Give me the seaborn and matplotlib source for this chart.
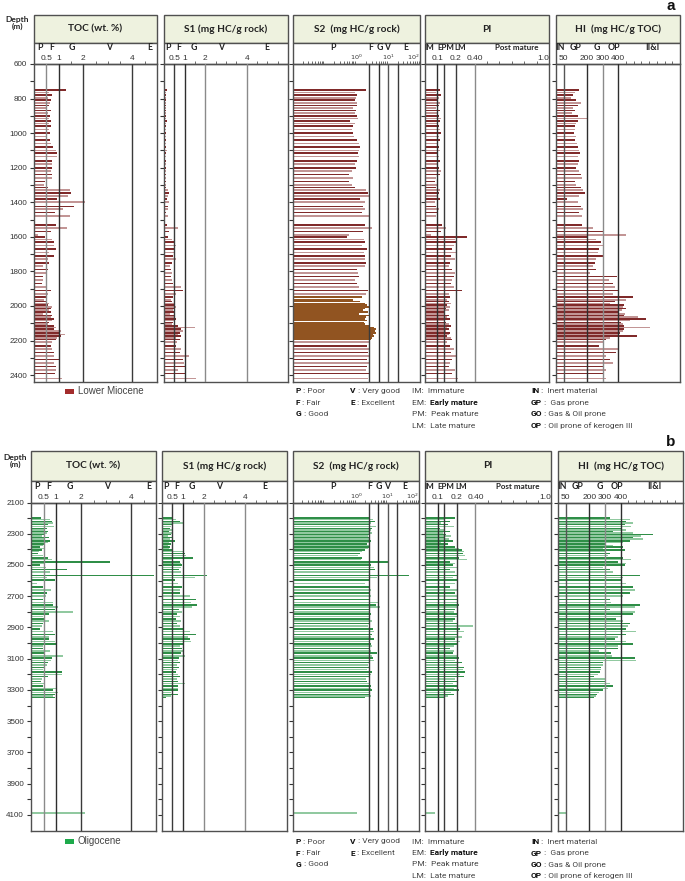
import numpy as np
import pandas as pd
import matplotlib
matplotlib.use("Agg")
import matplotlib.pyplot as plt
import seaborn as sns
from matplotlib.patches import Rectangle
from matplotlib import transforms
from matplotlib.ticker import FixedLocator, LogLocator, NullFormatter

sns.set_theme(style="white")
plt.rcParams['font.family'] = ['Liberation Sans', 'DejaVu Sans']

# ---------------- data : panel a (Lower Miocene) ----------------
depth_a = [
    750, 765, 780, 795, 810, 825, 840, 855, 870, 885,
    900, 915, 930, 945, 960, 980, 1000, 1020, 1040, 1060,
    1080, 1100, 1115, 1135, 1160, 1180, 1200, 1220, 1240, 1260,
    1280, 1300, 1315, 1330, 1345, 1365, 1380, 1400, 1425, 1440,
    1460, 1480, 1530, 1550, 1570, 1590, 1600, 1615, 1630, 1650,
    1670, 1690, 1710, 1730, 1750, 1770, 1790, 1810, 1830, 1850,
    1870, 1890, 1910, 1930, 1950, 1965, 1975, 1985, 1995, 2005,
    2015, 2025, 2035, 2045, 2055, 2065, 2075, 2085, 2095, 2105,
    2115, 2125, 2135, 2145, 2155, 2165, 2175, 2185, 2195, 2210,
    2230, 2250, 2270, 2290, 2310, 2330, 2350, 2370, 2390, 2420]
toc_a = [
    1.30, 0.60, 0.75, 0.55, 0.70, 0.65, 0.60, 0.50, 0.70, 0.55,
    0.65, 0.60, 0.70, 0.60, 0.70, 0.60, 0.65, 0.50, 0.65, 0.70,
    0.78, 0.88, 0.95, 0.95, 0.72, 0.72, 0.72, 0.68, 0.72, 0.75,
    0.45, 0.40, 0.55, 1.46, 1.50, 1.40, 0.95, 2.08, 1.63, 1.16,
    0.85, 1.46, 0.90, 1.36, 0.70, 0.15, 0.45, 0.75, 0.82, 0.82,
    0.90, 0.60, 0.82, 0.55, 0.60, 0.36, 0.55, 0.48, 0.35, 0.35,
    0.32, 0.48, 0.68, 0.58, 0.48, 0.42, 0.48, 0.60, 0.55, 0.75,
    0.68, 0.62, 0.68, 0.35, 0.75, 0.68, 0.82, 0.75, 0.60, 0.55,
    0.80, 0.90, 0.82, 1.09, 1.02, 1.25, 1.09, 0.95, 0.88, 0.75,
    0.68, 0.75, 0.82, 0.82, 1.00, 0.82, 0.88, 0.88, 0.85, 1.13]
s1_a = [
    0.15, 0.10, 0.12, 0.08, 0.10, 0.10, 0.08, 0.10, 0.12, 0.08,
    0.10, 0.12, 0.15, 0.10, 0.12, 0.10, 0.08, 0.10, 0.12, 0.10,
    0.12, 0.15, 0.12, 0.10, 0.10, 0.12, 0.10, 0.08, 0.10, 0.12,
    0.08, 0.10, 0.12, 0.20, 0.25, 0.20, 0.15, 0.25, 0.20, 0.18,
    0.12, 0.20, 0.15, 0.70, 0.25, 0.05, 0.20, 0.40, 0.50, 0.60,
    0.55, 0.50, 0.45, 0.60, 0.40, 0.30, 0.35, 0.40, 0.35, 0.40,
    0.45, 0.80, 0.90, 0.60, 0.45, 0.35, 0.40, 0.55, 0.50, 0.60,
    0.55, 0.45, 0.50, 0.30, 0.55, 0.50, 0.60, 0.55, 0.45, 0.40,
    0.70, 1.50, 0.80, 0.90, 0.75, 0.70, 0.80, 0.60, 0.75, 0.65,
    0.60, 0.80, 0.75, 1.20, 0.90, 0.95, 1.00, 0.70, 1.05, 1.55]
s2_a = [
    2.0, 0.9, 1.0, 0.95, 0.9, 1.05, 1.0, 0.8, 0.95, 0.9,
    1.0, 1.1, 0.63, 0.9, 0.8, 0.7, 0.75, 0.85, 1.0, 1.2,
    1.3, 1.2, 1.1, 1.2, 1.0, 0.9, 0.95, 0.7, 0.6, 0.8,
    0.6, 0.7, 0.9, 2.0, 2.3, 2.4, 1.3, 1.8, 1.6, 1.9,
    1.5, 2.4, 1.8, 3.1, 1.6, 0.6, 0.5, 1.7, 1.8, 1.5,
    2.1, 1.7, 1.8, 1.9, 2.0, 1.8, 1.0, 1.1, 1.2, 0.9,
    1.0, 1.2, 2.3, 2.0, 1.5, 0.8, 1.3, 1.9, 2.2, 2.4,
    1.8, 1.6, 2.3, 1.2, 2.5, 2.0, 1.9, 2.2, 1.7, 1.8,
    2.7, 3.5, 4.2, 3.8, 4.0, 3.2, 3.5, 3.0, 2.8, 2.4,
    2.2, 2.4, 2.3, 2.5, 2.1, 2.4, 2.2, 2.0, 2.5, 2.3]
pi_a = [
    0.12, 0.09, 0.13, 0.11, 0.10, 0.12, 0.11, 0.09, 0.12, 0.10,
    0.11, 0.13, 0.12, 0.10, 0.11, 0.12, 0.13, 0.11, 0.12, 0.10,
    0.11, 0.12, 0.10, 0.11, 0.12, 0.10, 0.11, 0.13, 0.12, 0.09,
    0.08, 0.10, 0.09, 0.12, 0.11, 0.10, 0.12, 0.08, 0.09, 0.11,
    0.10, 0.09, 0.14, 0.17, 0.13, 0.05, 0.34, 0.24, 0.25, 0.23,
    0.22, 0.25, 0.21, 0.24, 0.20, 0.19, 0.22, 0.24, 0.23, 0.22,
    0.21, 0.23, 0.30, 0.19, 0.20, 0.18, 0.19, 0.21, 0.18, 0.20,
    0.17, 0.19, 0.16, 0.15, 0.19, 0.18, 0.20, 0.16, 0.17, 0.19,
    0.21, 0.18, 0.19, 0.17, 0.20, 0.19, 0.18, 0.21, 0.22, 0.18,
    0.20, 0.23, 0.21, 0.25, 0.22, 0.20, 0.19, 0.24, 0.22, 0.27]
hi_a = [
    150, 120, 110, 95, 130, 160, 140, 110, 125, 105,
    145, 200, 140, 130, 120, 125, 115, 130, 120, 135,
    140, 150, 155, 145, 150, 140, 130, 150, 160, 170,
    120, 130, 160, 175, 185, 150, 70, 140, 160, 175,
    150, 165, 170, 240, 300, 450, 200, 260, 290, 310,
    280, 270, 300, 260, 250, 240, 260, 220, 395, 340,
    370, 380, 400, 370, 495, 450, 380, 350, 440, 430,
    450, 425, 400, 445, 440, 530, 580, 480, 420, 430,
    440, 605, 440, 430, 410, 400, 520, 350, 320, 300,
    280, 400, 390, 320, 350, 370, 300, 320, 300, 320]

# ---------------- data : panel b (Oligocene) ----------------
depth_b = [
    2200, 2210, 2220, 2230, 2240, 2255, 2265, 2275, 2285, 2295,
    2305, 2315, 2325, 2335, 2345, 2355, 2365, 2375, 2385, 2395,
    2405, 2415, 2425, 2440, 2455, 2465, 2480, 2490, 2500, 2515,
    2530, 2545, 2567, 2580, 2595, 2620, 2640, 2660, 2680, 2700,
    2720, 2740, 2755, 2770, 2785, 2800, 2815, 2830, 2845, 2860,
    2875, 2890, 2910, 2925, 2945, 2960, 2975, 2990, 3005, 3020,
    3035, 3050, 3065, 3083, 3095, 3110, 3125, 3140, 3155, 3170,
    3185, 3200, 3215, 3230, 3245, 3260, 3275, 3290, 3300, 3315,
    3330, 3340, 3350, 4089]
toc_b = [
    0.38, 0.75, 0.82, 0.89, 0.69, 0.93, 0.62, 0.55, 0.69, 0.65,
    0.50, 0.42, 0.73, 0.55, 0.75, 0.69, 0.55, 0.49, 0.36, 0.50,
    0.42, 0.33, 0.29, 0.49, 0.69, 0.82, 3.16, 0.55, 0.36, 0.60,
    1.42, 0.75, 4.92, 0.62, 0.95, 0.22, 0.49, 0.78, 0.62, 0.60,
    0.49, 0.89, 0.89, 1.08, 0.95, 1.68, 0.73, 0.49, 0.55, 0.73,
    0.49, 0.42, 0.36, 0.86, 0.95, 0.73, 0.73, 0.95, 0.99, 0.49,
    0.49, 0.75, 0.55, 1.28, 0.82, 0.79, 0.69, 0.62, 0.55, 0.49,
    1.22, 1.22, 0.69, 0.42, 0.38, 0.55, 0.46, 0.99, 0.89, 1.08,
    0.95, 0.89, 0.95, 2.14]
s1_b = [
    0.53, 0.69, 0.85, 1.00, 0.53, 0.45, 0.40, 0.55, 0.35, 0.50,
    0.45, 0.30, 0.55, 0.40, 0.60, 0.35, 0.45, 0.30, 0.40, 0.35,
    0.50, 1.00, 1.08, 1.17, 1.49, 0.53, 0.85, 0.92, 0.95, 0.90,
    0.80, 0.92, 2.16, 1.57, 0.60, 0.78, 0.95, 0.85, 0.85, 1.33,
    1.65, 1.40, 1.68, 1.45, 0.80, 0.95, 0.70, 0.85, 0.65, 0.90,
    0.72, 0.85, 1.00, 1.33, 1.65, 1.25, 1.33, 1.41, 1.00, 0.85,
    0.95, 1.05, 0.90, 1.10, 0.80, 0.75, 0.85, 0.70, 0.80, 0.70,
    0.65, 0.78, 0.85, 0.70, 0.75, 1.10, 0.77, 0.77, 0.75, 0.45,
    0.77, 0.45, 0.20, 0.05]
s2_b = [
    2.6, 3.5, 4.0, 3.0, 2.8, 4.2, 3.2, 2.9, 2.6, 3.3,
    2.5, 2.4, 2.8, 2.6, 3.0, 2.5, 2.3, 2.6, 2.5, 2.4,
    2.0, 1.6, 1.3, 1.2, 1.5, 1.4, 10.0, 2.5, 2.9, 3.6,
    4.0, 2.7, 47.0, 4.6, 2.6, 2.0, 2.5, 2.9, 2.7, 3.0,
    2.8, 5.0, 4.2, 5.6, 2.5, 2.6, 3.0, 2.5, 2.7, 3.2,
    2.6, 2.4, 3.4, 3.6, 3.2, 3.0, 3.8, 2.5, 2.9, 3.2,
    2.8, 3.0, 4.5, 3.2, 3.4, 3.6, 2.6, 2.4, 2.5, 2.2,
    3.2, 3.0, 2.8, 2.1, 2.2, 2.6, 3.0, 2.9, 3.2, 2.8,
    2.7, 3.0, 2.0, 1.1]
pi_b = [
    0.24, 0.15, 0.20, 0.13, 0.18, 0.23, 0.12, 0.16, 0.20, 0.14,
    0.17, 0.21, 0.15, 0.19, 0.22, 0.13, 0.18, 0.16, 0.24, 0.27,
    0.29, 0.31, 0.30, 0.32, 0.27, 0.33, 0.20, 0.24, 0.22, 0.25,
    0.20, 0.24, 0.25, 0.22, 0.26, 0.24, 0.20, 0.26, 0.24, 0.25,
    0.26, 0.25, 0.27, 0.26, 0.24, 0.23, 0.25, 0.26, 0.24, 0.22,
    0.26, 0.38, 0.28, 0.31, 0.26, 0.29, 0.24, 0.28, 0.26, 0.23,
    0.20, 0.23, 0.22, 0.25, 0.27, 0.24, 0.29, 0.25, 0.31, 0.30,
    0.32, 0.28, 0.31, 0.24, 0.26, 0.22, 0.25, 0.23, 0.27, 0.21,
    0.23, 0.18, 0.15, 0.08]
hi_b = [
    331, 459, 438, 481, 427, 470, 406, 438, 352, 481,
    609, 534, 481, 545, 459, 416, 310, 352, 416, 288,
    427, 310, 331, 320, 416, 470, 384, 438, 427, 288,
    331, 352, 523, 416, 406, 438, 481, 491, 459, 416,
    335, 338, 523, 491, 335, 491, 481, 406, 369, 416,
    459, 448, 438, 502, 438, 384, 363, 438, 481, 384,
    384, 263, 342, 348, 491, 502, 288, 288, 278, 278,
    267, 257, 230, 300, 310, 330, 350, 320, 290, 260,
    250, 240, 230, 55]

variables = ["TOC", "S1", "S2", "PI", "HI"]
titles = ["TOC (wt. %)", "S1 (mg HC/g rock)", "S2  (mg HC/g rock)", "PI", "HI  (mg HC/g TOC)"]

# ---------------- figure setup ----------------
W, H = 685, 881
fig = plt.figure(figsize=(W / 100, H / 100), dpi=100)
HEAD_FONT = ['Lato', 'DejaVu Sans']
LEG_FONT = ['Roboto', 'DejaVu Sans']
EDGE = '#505050'
HEAD_FC = '#EEF2DF'

xlims = {"TOC": (0, 5), "S1": (0, 6), "S2": (0.01, 100), "PI": (0, 1), "HI": (0, 800)}
major = {
    "TOC": ([0.5, 1, 2, 4], ["0.5", "1", "2", "4"]),
    "S1": ([0.5, 1, 2, 4], ["0.5", "1", "2", "4"]),
    "S2": ([1, 10, 100], ["$10^0$", "$10^1$", "$10^2$"]),
    "PI": ([0.1, 0.25, 0.4, 1.0], ["0.1", "0.2", "0.40", "1.0"]),
    "HI": ([50, 200, 300, 400], ["50", "200", "300", "400"]),
}
minor = {
    "TOC": [1.5, 2.5, 3, 3.5, 4.5],
    "S1": [1.5, 2.5, 3, 3.5, 4.5, 5, 5.5],
    "S2": None,
    "PI": [0.5, 0.6, 0.7, 0.8, 0.9],
    "HI": [450, 500, 550, 600, 650, 700, 750],
}
ref_lines = {
    "TOC": ([0.5, 1, 2, 4], ['#8a8a8a', '#2e2e2e', '#3a3a3a', '#3a3a3a']),
    "S1": ([0.5, 1, 2, 4], ['#3a3a3a', '#2e2e2e', '#8a8a8a', '#8a8a8a']),
    "S2": ([2.5, 5, 10, 20], ['#3a3a3a', '#2e2e2e', '#555555', '#3a3a3a']),
    "PI": ([0.1, 0.15, 0.25, 0.4], ['#2e2e2e', '#3a3a3a', '#3a3a3a', '#8a8a8a']),
    "HI": ([50, 200, 300, 400], ['#555555', '#2e2e2e', '#8a8a8a', '#2e2e2e']),
}
cat_labels = {
    "TOC": [(0.25, "P"), (0.72, "F"), (1.55, "G"), (3.05, "V"), (4.7, "E")],
    "S1": [(0.2, "P"), (0.7, "F"), (1.45, "G"), (2.75, "V"), (4.95, "E")],
    "S2": [(0.18, "P"), (2.8, "F"), (5.3, "G"), (9.5, "V"), (36, "E")],
    "PI": [(0.035, "IM"), (0.165, "EPM"), (0.285, "LM"), (0.74, "Post mature")],
    "HI": [(28, "IN"), (125, "GP"), (265, "G"), (375, "OP"), (620, "II&I")],
}


def fx(x):
    return x / W


def fy(y):
    return 1 - y / H


def draw_panel(depths, series, cols, box_top, head_bot, ax_top, ax_bot, ylim,
               ylabels, ytick_all, colors, dense_range=None):
    for i, var in enumerate(variables):
        x0, x1 = cols[i]
        fig.add_artist(Rectangle((fx(x0), fy(head_bot)), (x1 - x0) / W, (head_bot - box_top) / H,
                                 transform=fig.transFigure, fc=HEAD_FC, ec=EDGE, lw=1.0,
                                 zorder=-5))
        fig.add_artist(Rectangle((fx(x0), fy(ax_top)), (x1 - x0) / W, (ax_top - head_bot) / H,
                                 transform=fig.transFigure, fc='white', ec=EDGE, lw=1.0,
                                 zorder=-5))
        fig.text(fx((x0 + x1) / 2), fy((box_top + head_bot) / 2), titles[i], ha='center',
                 va='center', fontsize=7.3, fontweight='bold', family=HEAD_FONT,
                 color='#222222', zorder=5)
        ax = fig.add_axes([fx(x0), fy(ax_bot), (x1 - x0) / W, (ax_bot - ax_top) / H])
        ax.patch.set_alpha(0.0)

        tone = []
        for k, d in enumerate(depths):
            if var == "S2" and dense_range is not None and dense_range[0] <= d <= dense_range[1]:
                tone.append("dense")
            else:
                tone.append("dark" if k % 2 == 0 else "light")
        df = pd.DataFrame({"depth": depths, "value": series[i], "tone": tone})
        sns.barplot(data=df, x="value", y="depth", hue="tone", palette=colors, orient="h",
                    native_scale=True, dodge=False, width=0.95, linewidth=0, errorbar=None,
                    legend=False, ax=ax, zorder=2)
        if var == "S2":
            ax.set_xscale("log")
        ax.set_xlim(*xlims[var])
        ax.set_ylim(ylim[1], ylim[0])
        ax.set_xlabel("")
        ax.set_ylabel("")

        lines, lcols = ref_lines[var]
        for v, c in zip(lines, lcols):
            ax.axvline(v, color=c, lw=1.0, zorder=3)

        for s in ax.spines.values():
            s.set_color(EDGE)
            s.set_linewidth(1.0)
            s.set_visible(True)

        # top ticks
        ax.xaxis.tick_top()
        mv, ml = major[var]
        ax.xaxis.set_major_locator(FixedLocator(mv))
        ax.set_xticklabels(ml)
        if var == "S2":
            ax.xaxis.set_minor_locator(LogLocator(base=10, subs=np.arange(2, 10)))
        else:
            ax.xaxis.set_minor_locator(FixedLocator(minor[var]))
        ax.xaxis.set_minor_formatter(NullFormatter())
        ax.tick_params(axis='x', which='major', top=True, bottom=False, labeltop=True,
                       labelbottom=False, length=0, pad=1.2,
                       labelsize=6 if var != "S2" else 4.6, labelcolor='#333333')
        ax.tick_params(axis='x', which='minor', top=True, bottom=False, length=2.0,
                       width=0.6, color='#555555', direction='out')
        if var in ("S2", "PI"):
            ax.get_xticklabels()[-1].set_horizontalalignment('right')

        # depth ticks
        ax.yaxis.set_major_locator(FixedLocator(ytick_all))
        if i == 0:
            ax.set_yticklabels([str(t) if t in ylabels else "" for t in ytick_all])
        else:
            ax.set_yticklabels([])
        ax.tick_params(axis='y', which='major', left=True, right=False, length=3, width=0.8,
                       color='#333333', direction='out', labelsize=5.8, pad=2,
                       labelcolor='#333333')

        # category labels
        tr = transforms.blended_transform_factory(ax.transData, fig.transFigure)
        fs = 5.8 if var == "PI" else 6.3
        for v, lab in cat_labels[var]:
            ax.text(v, fy(ax_top - 16), lab, transform=tr, ha='center', va='center',
                    fontsize=fs, fontweight='bold', family=HEAD_FONT, color='#222222',
                    clip_on=False)


def draw_legend(rows_y, series_name, swatch_color):
    fig.add_artist(Rectangle((fx(65), fy(rows_y[0] + 2.5)), 9 / W, 5 / H, transform=fig.transFigure,
                             fc=swatch_color, ec='none'))
    fig.text(fx(78), fy(rows_y[0]), series_name, fontsize=7, color='#444444', va='center')
    renderer = fig.canvas.get_renderer()
    entries = [
        (296, 0, [("P", True), (" : Poor", False)]),
        (296, 1, [("F", True), (" : Fair", False)]),
        (296, 2, [("G", True), (" : Good", False)]),
        (350, 0, [("V", True), (" : Very good", False)]),
        (350, 1, [("E", True), (" : Excellent", False)]),
        (412, 0, [("IM:  Immature", False)]),
        (412, 1, [("EM:  ", False), ("Early mature", True)]),
        (412, 2, [("PM:  Peak mature", False)]),
        (412, 3, [("LM:  Late mature", False)]),
        (531, 0, [("IN", True), (" :  Inert material", False)]),
        (531, 1, [("GP", True), (" :  Gas prone", False)]),
        (531, 2, [("GO", True), (" : Gas & Oil prone", False)]),
        (531, 3, [("OP", True), (" : Oil prone of kerogen III", False)]),
    ]
    for x, r, parts in entries:
        cx = x
        for txt, bold in parts:
            t = fig.text(fx(cx), fy(rows_y[r]), txt, fontsize=6, family=LEG_FONT,
                         fontweight='bold' if bold else 'normal',
                         color='#111111' if bold else '#444444', va='center', ha='left')
            bb = t.get_window_extent(renderer=renderer)
            cx += bb.width


# ---------------- panel a ----------------
draw_panel(depth_a, [toc_a, s1_a, s2_a, pi_a, hi_a],
           [(34, 157), (164, 288), (293, 420), (425, 549), (556, 680)],
           box_top=14.7, head_bot=43.3, ax_top=64, ax_bot=382, ylim=(600, 2440),
           ylabels=list(range(600, 2401, 200)), ytick_all=list(range(600, 2401, 100)),
           colors={"dark": "#8E1C1C", "light": "#C98D8D", "dense": "#A3520F"},
           dense_range=(1950, 2200))
fig.text(fx(17), fy(23), "Depth\n(m)", ha='center', va='center', fontsize=6,
         fontweight='bold', family=HEAD_FONT, color='#222222', linespacing=1.1)
fig.text(fx(671), fy(6), "a", ha='center', va='center', fontsize=11, fontweight='bold',
         color='#111111')
draw_legend([391, 402.5, 414, 425.5], "Lower Miocene", "#A32C2C")

# ---------------- panel b ----------------
draw_panel(depth_b, [toc_b, s1_b, s2_b, pi_b, hi_b],
           [(31, 156), (162, 287), (293, 419), (425, 551), (558, 683)],
           box_top=451, head_bot=480.5, ax_top=502.5, ax_bot=830.5, ylim=(2100, 4200),
           ylabels=list(range(2100, 4101, 200)), ytick_all=list(range(2100, 4101, 100)),
           colors={"dark": "#1F9E3F", "light": "#88D29C", "dense": "#1F9E3F"})
fig.text(fx(15), fy(461), "Depth\n(m)", ha='center', va='center', fontsize=6,
         fontweight='bold', family=HEAD_FONT, color='#222222', linespacing=1.1)
fig.text(fx(671), fy(442), "b", ha='center', va='center', fontsize=11, fontweight='bold',
         color='#111111')
draw_legend([841.5, 853, 864.5, 876], "Oligocene", "#1DAA4B")

fig.savefig("out.png", dpi=100)
